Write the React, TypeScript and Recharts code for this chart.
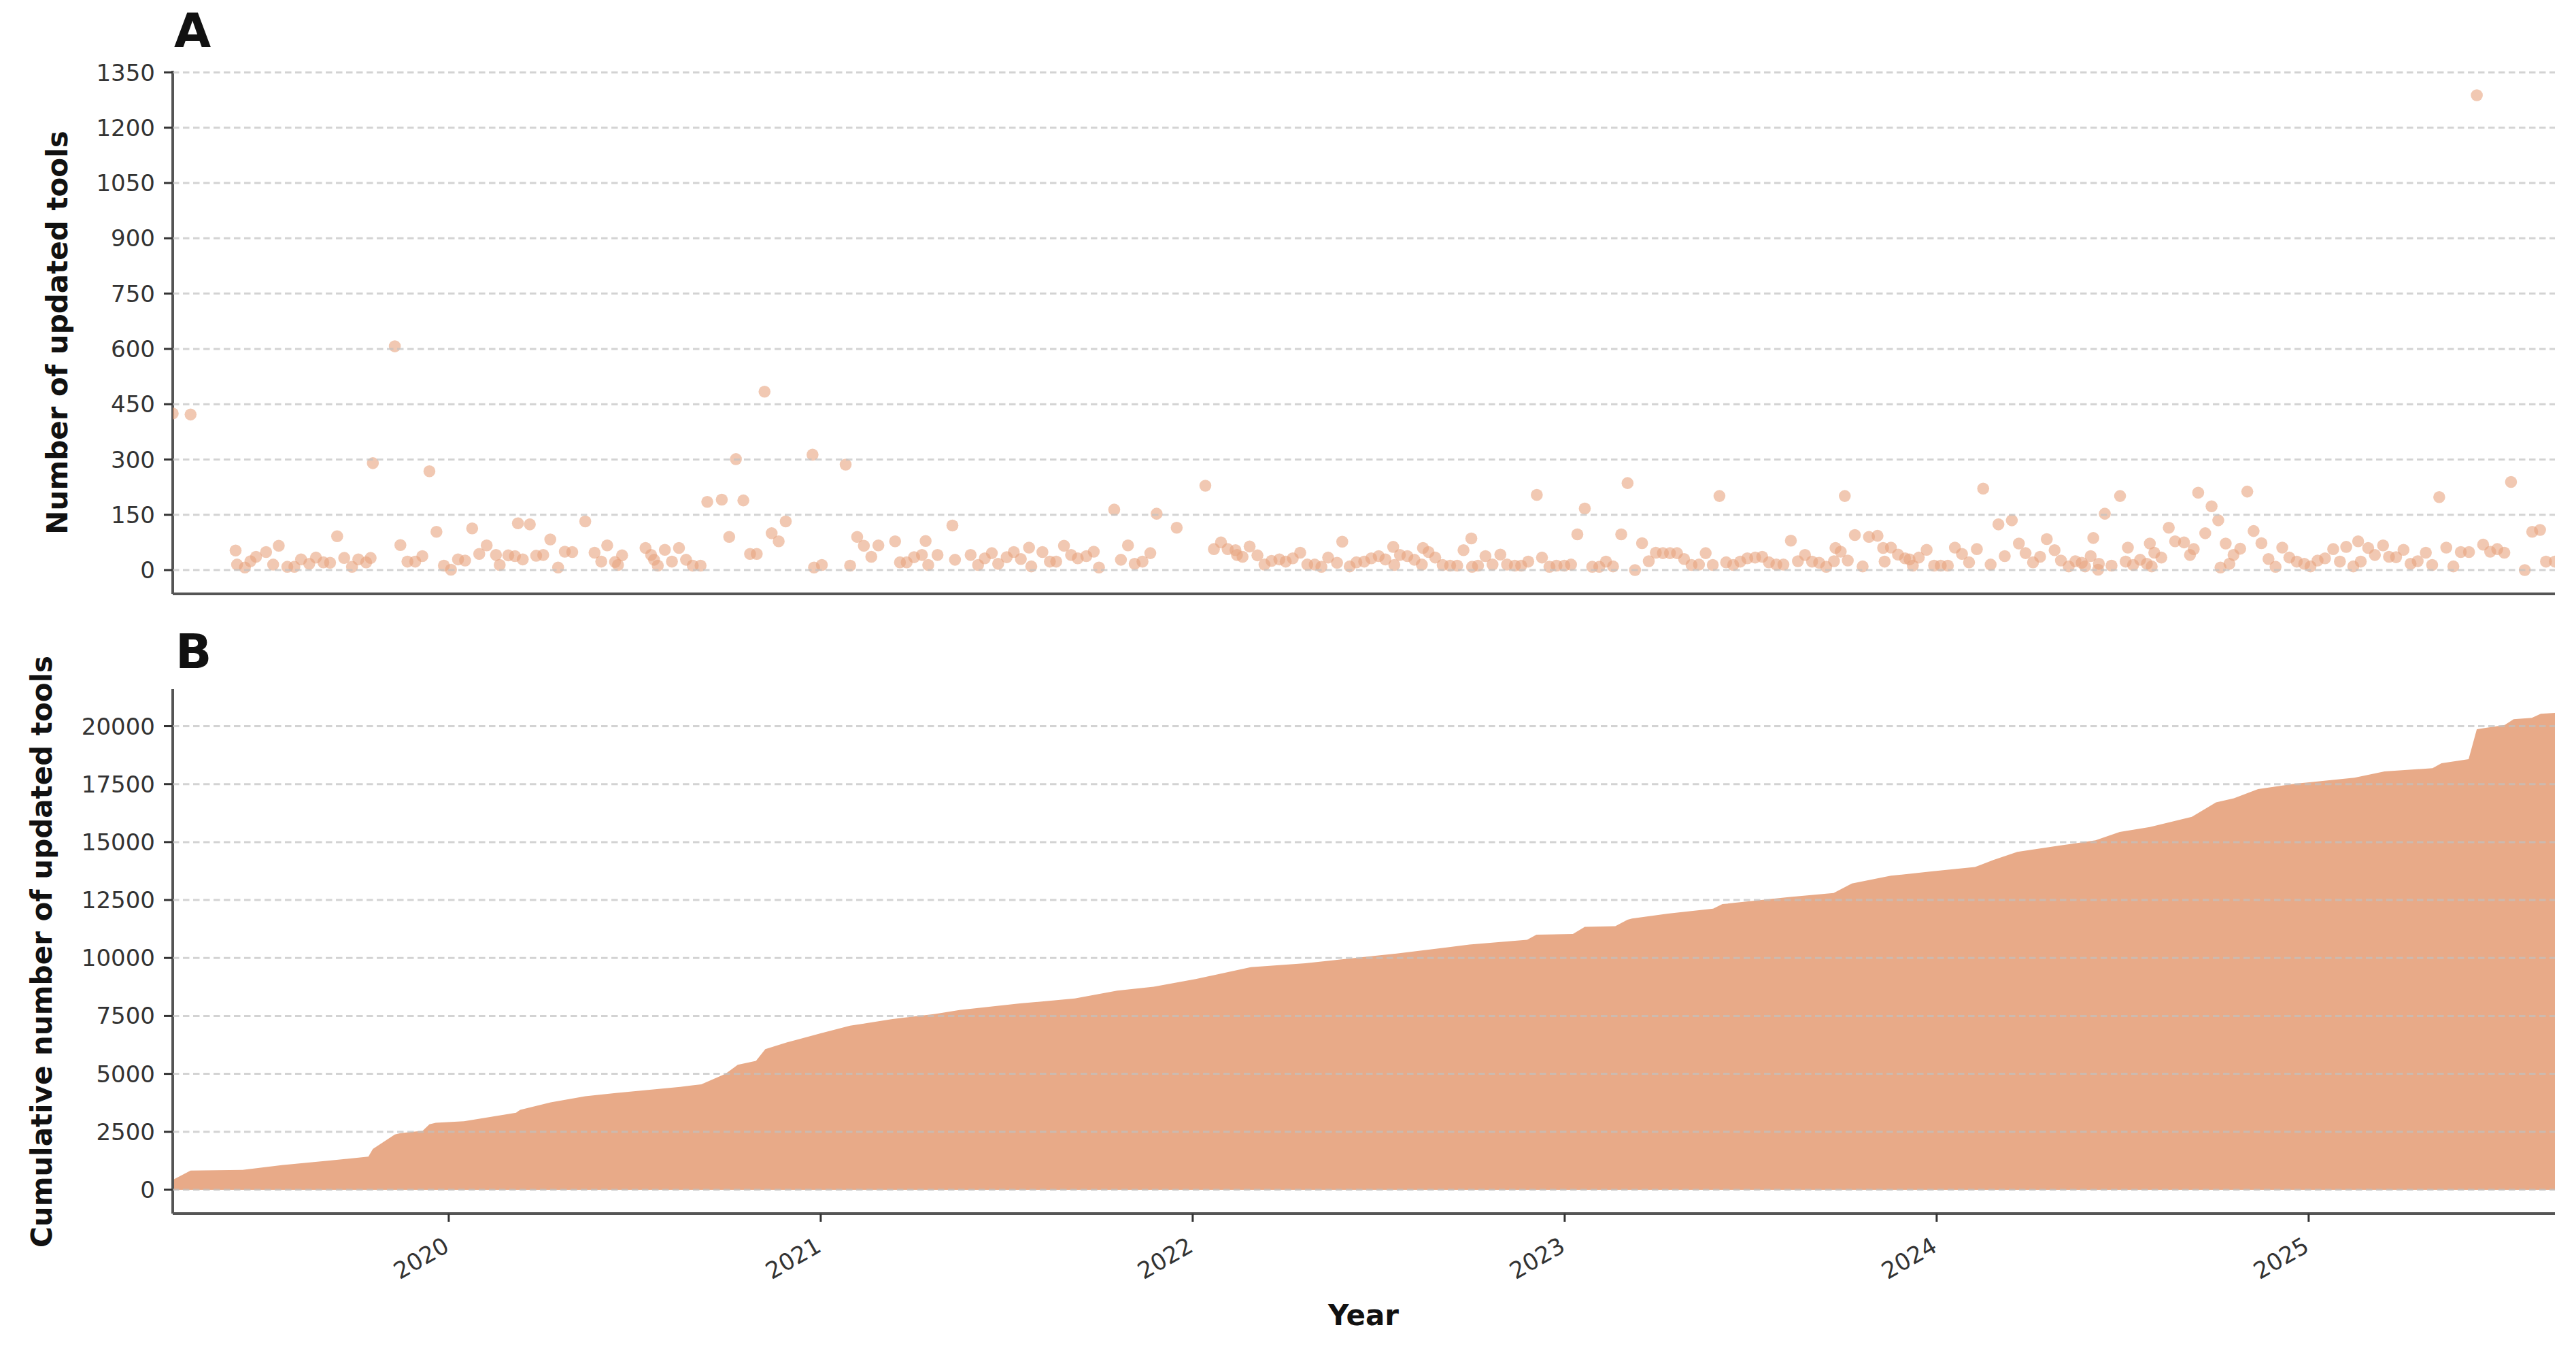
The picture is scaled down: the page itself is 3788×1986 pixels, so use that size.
import {
  Area,
  AreaChart,
  CartesianGrid,
  Scatter,
  ScatterChart,
  XAxis,
  YAxis,
} from "recharts";

// weekly number of updated tools (decimal year, count)
const updateDates = [
  2019.258, 2019.306, 2019.427, 2019.431, 2019.452, 2019.467, 2019.482, 2019.509, 2019.528, 2019.543,
  2019.566, 2019.585, 2019.603, 2019.625, 2019.643, 2019.663, 2019.681, 2019.7, 2019.719, 2019.74,
  2019.757, 2019.778, 2019.79, 2019.796, 2019.855, 2019.87, 2019.889, 2019.91, 2019.929, 2019.948,
  2019.967, 2019.987, 2020.006, 2020.025, 2020.044, 2020.063, 2020.082, 2020.102, 2020.127, 2020.137,
  2020.16, 2020.178, 2020.186, 2020.199, 2020.218, 2020.235, 2020.254, 2020.273, 2020.294, 2020.312,
  2020.332, 2020.367, 2020.392, 2020.41, 2020.426, 2020.447, 2020.455, 2020.466, 2020.529, 2020.544,
  2020.552, 2020.562, 2020.581, 2020.6, 2020.619, 2020.638, 2020.656, 2020.677, 2020.695, 2020.734,
  2020.754, 2020.772, 2020.792, 2020.81, 2020.828, 2020.849, 2020.868, 2020.887, 2020.906, 2020.978,
  2020.982, 2021.003, 2021.067, 2021.079, 2021.098, 2021.116, 2021.136, 2021.155, 2021.2, 2021.213,
  2021.231, 2021.251, 2021.272, 2021.282, 2021.289, 2021.314, 2021.354, 2021.361, 2021.403, 2021.423,
  2021.441, 2021.46, 2021.477, 2021.5, 2021.519, 2021.538, 2021.56, 2021.566, 2021.596, 2021.616,
  2021.633, 2021.654, 2021.673, 2021.691, 2021.714, 2021.734, 2021.748, 2021.789, 2021.807, 2021.826,
  2021.844, 2021.865, 2021.886, 2021.903, 2021.957, 2022.034, 2022.057, 2022.076, 2022.094, 2022.115,
  2022.119, 2022.134, 2022.153, 2022.174, 2022.193, 2022.212, 2022.233, 2022.25, 2022.269, 2022.289,
  2022.308, 2022.328, 2022.346, 2022.364, 2022.388, 2022.402, 2022.422, 2022.44, 2022.461, 2022.48,
  2022.5, 2022.518, 2022.539, 2022.542, 2022.557, 2022.577, 2022.596, 2022.616, 2022.619, 2022.634,
  2022.652, 2022.672, 2022.692, 2022.711, 2022.728, 2022.749, 2022.751, 2022.767, 2022.787, 2022.806,
  2022.827, 2022.845, 2022.866, 2022.883, 2022.902, 2022.925, 2022.939, 2022.959, 2022.978, 2022.999,
  2023.017, 2023.034, 2023.054, 2023.074, 2023.093, 2023.111, 2023.13, 2023.152, 2023.169, 2023.189,
  2023.208, 2023.226, 2023.245, 2023.264, 2023.283, 2023.302, 2023.321, 2023.341, 2023.361, 2023.379,
  2023.398, 2023.416, 2023.434, 2023.453, 2023.472, 2023.491, 2023.512, 2023.531, 2023.549, 2023.569,
  2023.588, 2023.608, 2023.627, 2023.646, 2023.665, 2023.684, 2023.703, 2023.724, 2023.728, 2023.742,
  2023.753, 2023.761, 2023.78, 2023.801, 2023.818, 2023.841, 2023.856, 2023.86, 2023.877, 2023.896,
  2023.915, 2023.927, 2023.936, 2023.952, 2023.973, 2023.993, 2024.011, 2024.03, 2024.049, 2024.068,
  2024.087, 2024.108, 2024.125, 2024.145, 2024.166, 2024.183, 2024.202, 2024.221, 2024.239, 2024.259,
  2024.278, 2024.296, 2024.317, 2024.334, 2024.355, 2024.373, 2024.39, 2024.399, 2024.414, 2024.421,
  2024.434, 2024.436, 2024.452, 2024.47, 2024.493, 2024.508, 2024.514, 2024.528, 2024.547, 2024.565,
  2024.573, 2024.578, 2024.585, 2024.604, 2024.624, 2024.641, 2024.665, 2024.681, 2024.691, 2024.703,
  2024.722, 2024.739, 2024.757, 2024.763, 2024.777, 2024.787, 2024.798, 2024.816, 2024.835, 2024.852,
  2024.873, 2024.892, 2024.911, 2024.929, 2024.948, 2024.968, 2024.988, 2025.005, 2025.024, 2025.044,
  2025.066, 2025.084, 2025.101, 2025.12, 2025.133, 2025.14, 2025.16, 2025.178, 2025.2, 2025.216,
  2025.235, 2025.255, 2025.274, 2025.293, 2025.315, 2025.332, 2025.351, 2025.37, 2025.389, 2025.409,
  2025.431, 2025.452, 2025.469, 2025.488, 2025.507, 2025.526, 2025.544, 2025.581, 2025.601, 2025.622,
  2025.638, 2025.662,
];

const updatedTools = [
  425, 422, 53, 15, 7, 24, 36, 49, 15, 66,
  9, 9, 29, 17, 34, 21, 20, 92, 33, 9,
  29, 21, 33, 290, 607, 68, 23, 23, 38, 268,
  104, 12, 1, 29, 26, 113, 44, 67, 41, 14,
  40, 38, 127, 29, 124, 39, 41, 83, 7, 50,
  49, 132, 47, 23, 67, 22, 14, 40, 60, 41,
  28, 12, 55, 23, 60, 28, 12, 12, 185, 191,
  90, 301, 189, 44, 44, 484, 100, 78, 132, 313,
  7, 14, 286, 12, 90, 66, 36, 67, 78, 21,
  21, 35, 41, 79, 14, 41, 121, 28, 41, 14,
  32, 46, 17, 35, 49, 30, 61, 10, 49, 23,
  23, 66, 41, 32, 38, 50, 7, 164, 28, 67,
  17, 23, 46, 153, 115, 229, 57, 75, 57, 54,
  41, 36, 64, 40, 15, 25, 29, 23, 32, 47,
  15, 15, 9, 34, 20, 77, 10, 21, 23, 32,
  38, 29, 63, 14, 41, 38, 28, 15, 60, 49,
  34, 14, 12, 12, 54, 86, 9, 12, 38, 15,
  42, 15, 12, 12, 23, 204, 34, 9, 12, 12,
  15, 97, 167, 9, 9, 23, 10, 97, 236, 0,
  73, 24, 47, 46, 46, 46, 30, 14, 15, 46,
  14, 201, 21, 14, 23, 32, 34, 36, 21, 15,
  15, 80, 24, 41, 23, 20, 9, 24, 60, 50,
  201, 26, 95, 10, 90, 93, 60, 23, 61, 42,
  32, 29, 12, 34, 55, 12, 12, 12, 61, 44,
  21, 57, 221, 15, 124, 38, 135, 72, 46, 21,
  36, 84, 54, 26, 10, 24, 20, 10, 38, 87,
  1, 17, 153, 12, 201, 23, 61, 14, 28, 17,
  72, 10, 47, 34, 115, 78, 75, 41, 57, 210,
  100, 173, 135, 7, 72, 17, 41, 58, 213, 106,
  73, 30, 9, 61, 34, 23, 17, 10, 26, 32,
  57, 23, 63, 10, 78, 23, 60, 41, 67, 36,
  35, 55, 17, 24, 47, 14, 198, 61, 10, 49,
  49, 1288, 69, 50, 57, 47, 239, 0, 104, 109,
  23, 23,
];

// cumulative number of updated tools
const cumulativeDates = [
  2019.258, 2019.306, 2019.446, 2019.551, 2019.68, 2019.784, 2019.796, 2019.855, 2019.87, 2019.93,
  2019.948, 2019.965, 2020.041, 2020.181, 2020.192, 2020.274, 2020.367, 2020.449, 2020.622, 2020.679,
  2020.744, 2020.777, 2020.826, 2020.851, 2020.908, 2020.998, 2021.079, 2021.193, 2021.308, 2021.373,
  2021.536, 2021.683, 2021.797, 2021.895, 2022.01, 2022.156, 2022.303, 2022.401, 2022.548, 2022.679,
  2022.744, 2022.899, 2022.924, 2023.022, 2023.054, 2023.136, 2023.169, 2023.181, 2023.278, 2023.399,
  2023.424, 2023.602, 2023.723, 2023.772, 2023.877, 2023.99, 2024.103, 2024.152, 2024.217, 2024.33,
  2024.427, 2024.492, 2024.573, 2024.686, 2024.751, 2024.799, 2024.864, 2024.961, 2025.123, 2025.204,
  2025.333, 2025.357, 2025.43, 2025.452, 2025.527, 2025.551, 2025.6, 2025.624, 2025.662,
];

const cumulativeTools = [
  425, 830, 860, 1060, 1263, 1426, 1760, 2380, 2444, 2546,
  2820, 2893, 2954, 3320, 3450, 3768, 4033, 4176, 4440, 4550,
  5004, 5392, 5560, 6066, 6352, 6740, 7077, 7363, 7582, 7751,
  8037, 8256, 8593, 8762, 9099, 9604, 9773, 9942, 10194, 10447,
  10582, 10784, 11003, 11037, 11340, 11374, 11650, 11699, 11913, 12126,
  12322, 12624, 12802, 13211, 13548, 13744, 13922, 14224, 14580, 14846,
  15077, 15433, 15646, 16091, 16713, 16891, 17282, 17513, 17780, 18047,
  18189, 18402, 18580, 19870, 20055, 20304, 20358, 20536, 20571,
];

const yearTicks = [2020, 2021, 2022, 2023, 2024, 2025];
const countTicks = [0, 150, 300, 450, 600, 750, 900, 1050, 1200, 1350];
const cumulativeTicks = [0, 2500, 5000, 7500, 10000, 12500, 15000, 17500, 20000];

const WIDTH = 3788;
const HEIGHT = 1986;
const FONT = "'DejaVu Sans', sans-serif";
const PEACH = "#e8aa88";
const DOT = "#e8a47e";
const SPINE = "#555555";
const TEXT = "#333333";
const X_DOMAIN = [2019.258, 2025.662];
const COUNT_DOMAIN = [-64.5, 1354.5];
const CUMULATIVE_DOMAIN = [-1028.5, 21600];

const A_MARGIN = { top: 104, right: 31, bottom: 27, left: 0 };
const B_MARGIN = { top: 83, right: 31, bottom: 102, left: 0 };

const axisLine = { stroke: SPINE, strokeWidth: 4 };
const tickLine = { stroke: TEXT, strokeWidth: 3 };
const tickStyle = { fill: TEXT, fontSize: 34, fontFamily: FONT };

const weekly = updateDates.map((x, i) => ({ x, y: updatedTools[i] }));
const cumulative = cumulativeDates.map((x, i) => ({ x, y: cumulativeTools[i] }));

function YearTick({ x, y, payload }: any) {
  const ax = x - 10;
  return (
    <text
      x={ax}
      y={y}
      transform={`rotate(-30, ${ax}, ${y})`}
      textAnchor="end"
      dominantBaseline="hanging"
      fill={TEXT}
      fontSize={34}
      fontFamily={FONT}
    >
      {payload.value}
    </text>
  );
}

function Dot(props: any) {
  if (props.cx == null || props.cy == null) return null;
  return <circle cx={props.cx} cy={props.cy} r={8.8} fill={DOT} fillOpacity={0.6} />;
}

function Blank() {
  return <g />;
}

// dashed grid drawn above the marks, as in the original figure
function Grid() {
  return (
    <CartesianGrid
      vertical={false}
      syncWithTicks
      stroke="#c0c0c0"
      strokeOpacity={0.7}
      strokeWidth={3}
      strokeDasharray="9.5 5.5"
    />
  );
}

export default function App() {
  return (
    <div
      style={{
        position: "absolute",
        left: 0,
        top: 0,
        width: WIDTH,
        height: HEIGHT,
        background: "#ffffff",
        overflow: "hidden",
      }}
    >
      {/* panel A: weekly updates */}
      <div style={{ position: "absolute", left: 0, top: 0 }}>
        <ScatterChart width={WIDTH} height={930} margin={A_MARGIN}>
          <XAxis
            type="number"
            dataKey="x"
            domain={X_DOMAIN}
            ticks={yearTicks}
            allowDataOverflow
            tick={false}
            tickSize={12}
            height={30}
            axisLine={axisLine}
            tickLine={tickLine}
          />
          <YAxis
            type="number"
            dataKey="y"
            domain={COUNT_DOMAIN}
            ticks={countTicks}
            allowDataOverflow
            width={254}
            tickSize={13}
            tickMargin={13}
            axisLine={axisLine}
            tickLine={tickLine}
            tick={tickStyle}
          />
          <Scatter data={weekly} shape={Dot} isAnimationActive={false} />
        </ScatterChart>
      </div>
      <div style={{ position: "absolute", left: 0, top: 0, pointerEvents: "none" }}>
        <ScatterChart width={WIDTH} height={930} margin={A_MARGIN}>
          {Grid()}
          <XAxis
            type="number"
            dataKey="x"
            domain={X_DOMAIN}
            ticks={yearTicks}
            allowDataOverflow
            tick={<Blank />}
            tickLine={false}
            axisLine={false}
            height={30}
          />
          <YAxis
            type="number"
            dataKey="y"
            domain={COUNT_DOMAIN}
            ticks={countTicks}
            allowDataOverflow
            width={254}
            tick={<Blank />}
            tickLine={false}
            axisLine={false}
          />
          <Scatter data={weekly} shape={Blank} isAnimationActive={false} />
        </ScatterChart>
      </div>

      {/* panel B: cumulative updates */}
      <div style={{ position: "absolute", left: 0, top: 930 }}>
        <AreaChart width={WIDTH} height={1056} data={cumulative} margin={B_MARGIN}>
          <XAxis
            type="number"
            dataKey="x"
            domain={X_DOMAIN}
            ticks={yearTicks}
            allowDataOverflow
            tickSize={12}
            tickMargin={20}
            height={100}
            axisLine={axisLine}
            tickLine={tickLine}
            tick={<YearTick />}
          />
          <YAxis
            type="number"
            domain={CUMULATIVE_DOMAIN}
            ticks={cumulativeTicks}
            allowDataOverflow
            width={254}
            tickSize={13}
            tickMargin={13}
            axisLine={axisLine}
            tickLine={tickLine}
            tick={tickStyle}
          />
          <Area
            type="linear"
            dataKey="y"
            baseValue={0}
            stroke="none"
            fill={PEACH}
            fillOpacity={1}
            dot={false}
            activeDot={false}
            isAnimationActive={false}
          />
        </AreaChart>
      </div>
      <div style={{ position: "absolute", left: 0, top: 930, pointerEvents: "none" }}>
        <AreaChart width={WIDTH} height={1056} data={cumulative} margin={B_MARGIN}>
          {Grid()}
          <XAxis
            type="number"
            dataKey="x"
            domain={X_DOMAIN}
            ticks={yearTicks}
            allowDataOverflow
            tick={<Blank />}
            tickLine={false}
            axisLine={false}
            height={100}
          />
          <YAxis
            type="number"
            domain={CUMULATIVE_DOMAIN}
            ticks={cumulativeTicks}
            allowDataOverflow
            width={254}
            tick={<Blank />}
            tickLine={false}
            axisLine={false}
          />
          <Area
            type="linear"
            dataKey="y"
            stroke="none"
            fill="none"
            dot={false}
            activeDot={false}
            isAnimationActive={false}
          />
        </AreaChart>
      </div>

      <svg
        width={WIDTH}
        height={HEIGHT}
        style={{ position: "absolute", left: 0, top: 0, pointerEvents: "none" }}
      >
        <g fontFamily={FONT} fontWeight="bold" fill="#111111">
          <text x={256} y={69} fontSize={70}>
            A
          </text>
          <text x={258} y={982} fontSize={70}>
            B
          </text>
          <text
            x={84}
            y={489}
            fontSize={42}
            textAnchor="middle"
            dominantBaseline="central"
            transform="rotate(-90, 84, 489)"
          >
            Number of updated tools
          </text>
          <text
            x={61}
            y={1399}
            fontSize={42}
            textAnchor="middle"
            dominantBaseline="central"
            transform="rotate(-90, 61, 1399)"
          >
            Cumulative number of updated tools
          </text>
          <text x={2005} y={1948} fontSize={42} textAnchor="middle">
            Year
          </text>
        </g>
      </svg>
    </div>
  );
}
